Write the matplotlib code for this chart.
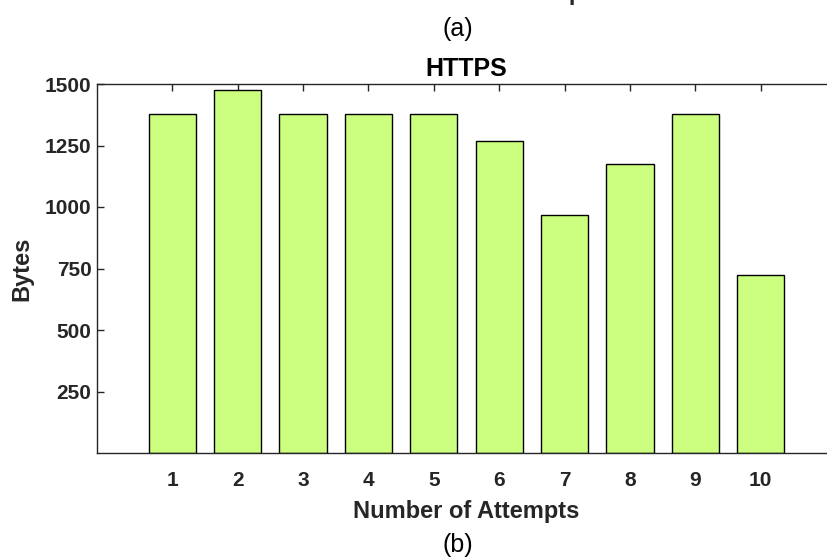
import numpy as np
import matplotlib.pyplot as plt

attempts = [1, 2, 3, 4, 5, 6, 7, 8, 9, 10]
bytes_sent = [1378, 1474, 1378, 1378, 1378, 1270, 966, 1174, 1378, 722]
yticks = [250, 500, 750, 1000, 1250, 1500]

plt.rcParams['font.family'] = ['Liberation Sans', 'DejaVu Sans']
dark = '#262626'

fig = plt.figure(figsize=(8.27, 5.6), dpi=100)
# axes run slightly past the right edge, like the cropped original
ax = fig.add_axes([97 / 827, 107 / 560, 739 / 827, 369 / 560])

ax.bar(attempts, bytes_sent, width=0.72, color='#ccff80',
       edgecolor='black', linewidth=1.0, zorder=2)

ax.set_xlim(-0.15, 11.15)
ax.set_ylim(0, 1500)
ax.set_xticks(attempts)
ax.set_yticks(yticks)

for s in ax.spines.values():
    s.set_color(dark)
    s.set_linewidth(1.0)

ax.tick_params(direction='in', length=5, width=1.0, color=dark,
               top=True, right=True, labelsize=15, labelcolor=dark)
ax.tick_params(axis='x', pad=13)
ax.tick_params(axis='y', pad=4)
for lab in ax.get_xticklabels() + ax.get_yticklabels():
    lab.set_fontweight('bold')

ax.set_title('HTTPS', fontsize=18, fontweight='bold', color='black', pad=6)
ax.set_xlabel('Number of Attempts', fontsize=17, fontweight='bold',
              color=dark, labelpad=7)
ax.set_ylabel('Bytes', fontsize=17, fontweight='bold', color=dark, labelpad=8)

# subfigure captions and the cut-off label of the panel above
fig.text(491 / 827, 1.0, 'Number of Attempts', fontsize=17, fontweight='bold',
         color=dark, ha='center', va='baseline')
fig.text(458 / 827, 1 - 29 / 560, '(a)', fontsize=18, ha='center', va='center')
fig.text(458 / 827, 1 - 545 / 560, '(b)', fontsize=18, ha='center', va='center')

fig.savefig('out.png', dpi=100)
